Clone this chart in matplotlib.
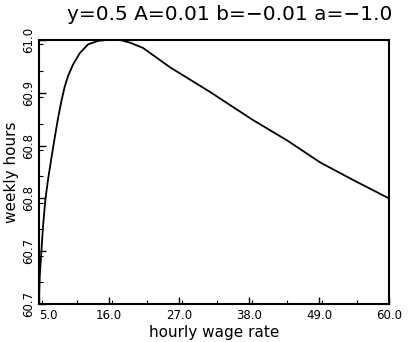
import matplotlib
matplotlib.use("Agg")
from matplotlib import pyplot as plt
from matplotlib.ticker import FormatStrFormatter, MultipleLocator
import numpy as np

# values
wage = [5.0, 5.11, 5.36, 5.63, 5.99, 6.41, 6.93, 7.47, 7.99, 8.50, 9.04,
        9.56, 10.34, 11.40, 12.70, 14.27, 15.64, 17.73, 19.3, 21.34, 25.59,
        28.73, 31.87, 38.63, 43.97, 49.16, 54.34, 60.0]
hours = [60.665, 60.696, 60.723, 60.753, 60.783, 60.806, 60.830, 60.854,
         60.876, 60.895, 60.912, 60.924, 60.937, 60.950, 60.960, 60.964,
         60.965, 60.965, 60.962, 60.956, 60.934, 60.920, 60.906, 60.874,
         60.851, 60.826, 60.806, 60.785]

xticks = [5.0, 16.0, 27.0, 38.0, 49.0, 60.0]
ymin, ymax = 60.665, 60.965
yticks = np.linspace(ymin, ymax, 6)

fig = plt.figure(figsize=(4.11, 3.42), dpi=100)
ax = fig.add_axes([39 / 411, 1 - 304 / 342, 350 / 411, 264 / 342])

ax.plot(wage, hours, color="black", lw=1.3)

ax.set_xlim(5, 60)
ax.set_ylim(ymin, ymax)
ax.set_xticks(xticks)
ax.set_yticks(yticks)
ax.xaxis.set_minor_locator(MultipleLocator(5.5))
ax.yaxis.set_minor_locator(MultipleLocator(0.03))
ax.xaxis.set_major_formatter(FormatStrFormatter("%.1f"))
ax.yaxis.set_major_formatter(FormatStrFormatter("%.1f"))
ax.tick_params(direction="in", which="major", length=5, width=1, labelsize=8.5)
ax.tick_params(direction="in", which="minor", length=3, width=0.8)
ax.tick_params(axis="y", pad=3)
for lab in ax.get_yticklabels():
    lab.set_rotation(90)
    lab.set_va("center")
ax.get_xticklabels()[0].set_ha("left")
for sp in ax.spines.values():
    sp.set_linewidth(1.5)

ax.set_xlabel("hourly wage rate", fontsize=11, labelpad=2)
ax.set_ylabel("weekly hours", fontsize=11, labelpad=2)
fig.text(230 / 411, 1 - 15 / 342, "y=0.5 A=0.01 b=\u22120.01 a=\u22121.0",
         fontsize=14.5, ha="center", va="center")

fig.savefig("out.png", dpi=100)
